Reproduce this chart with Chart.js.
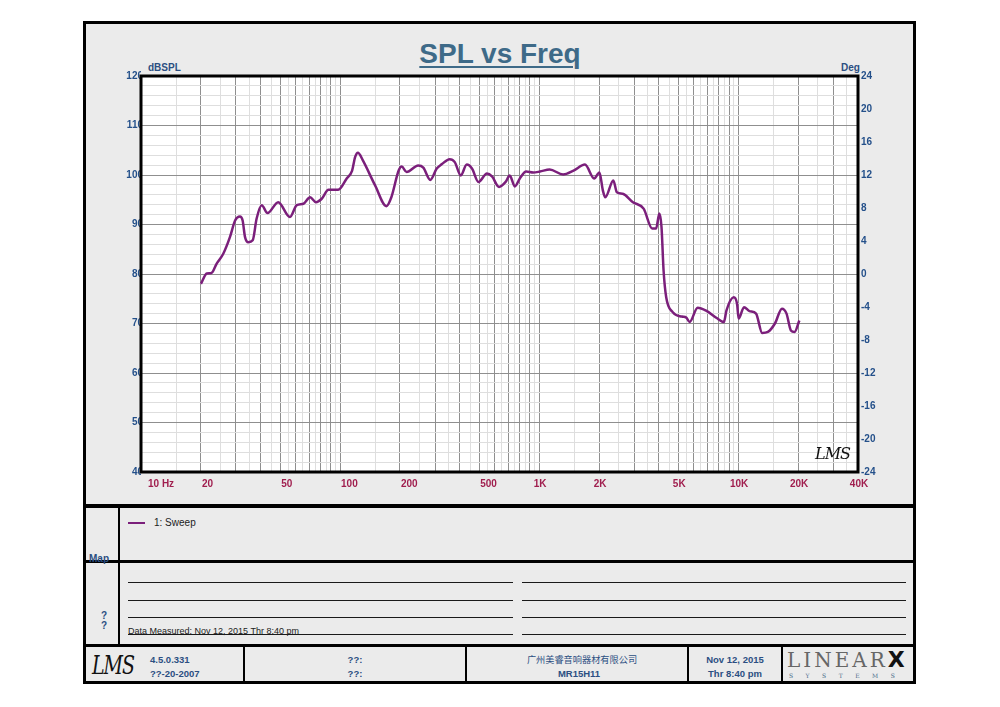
<!DOCTYPE html>
<html><head><meta charset="utf-8">
<script src="https://cdn.jsdelivr.net/npm/chart.js@4.4.0/dist/chart.umd.min.js"></script>
<style>
body{margin:0;background:#fff;width:1000px;height:707px;position:relative;overflow:hidden;font-family:"Liberation Sans",Arial,sans-serif;}
.a{position:absolute;white-space:nowrap;}
.hl{position:absolute;background:#000;}
.nl{position:absolute;background:#1a1a1a;height:1px;}
.blue{color:#2b4f82;font-weight:bold;}
#chart{position:absolute;left:0;top:0;z-index:2;}
</style></head>
<body>
<div class="a" style="left:83px;top:21px;width:833px;height:663px;border:3px solid #000;box-sizing:border-box;background:#ebebeb;"></div>
<div class="hl" style="left:83px;top:504px;width:833px;height:4px"></div>
<div class="hl" style="left:83px;top:560px;width:833px;height:3px"></div>
<div class="hl" style="left:83px;top:644px;width:833px;height:3px"></div>
<div class="hl" style="left:118px;top:504px;width:2px;height:142px"></div>
<div class="hl" style="left:243px;top:646px;width:2px;height:36px"></div>
<div class="hl" style="left:465px;top:646px;width:2px;height:36px"></div>
<div class="hl" style="left:687px;top:646px;width:2px;height:36px"></div>
<div class="hl" style="left:781px;top:646px;width:2px;height:36px"></div>

<div class="nl" style="left:128px;top:582px;width:385px"></div>
<div class="nl" style="left:128px;top:600px;width:385px"></div>
<div class="nl" style="left:128px;top:617px;width:385px"></div>
<div class="nl" style="left:128px;top:634px;width:385px"></div>
<div class="nl" style="left:522px;top:582px;width:384px"></div>
<div class="nl" style="left:522px;top:600px;width:384px"></div>
<div class="nl" style="left:522px;top:617px;width:384px"></div>
<div class="nl" style="left:522px;top:634px;width:384px"></div>

<div class="a" style="left:0;width:1000px;top:40px;text-align:center;font:bold 28px/28px 'Liberation Sans';color:#3e6a88;"><span style="text-decoration:underline;text-decoration-thickness:2px;text-underline-offset:3px;">SPL vs Freq</span></div>
<div class="a blue" style="left:148px;top:63px;font-size:10px;line-height:10px;">dBSPL</div>
<div class="a blue" style="left:841px;top:63px;font-size:10px;line-height:10px;">Deg</div>

<div class="a" style="left:128px;top:522px;width:17px;height:2px;background:#7b1f7b"></div>
<div class="a" style="left:154px;top:518px;font-size:10px;line-height:10px;color:#222">1: Sweep</div>
<div class="a blue" style="left:89px;top:554px;font-size:10px;line-height:10px;">Map</div>
<div class="a blue" style="left:101px;top:611px;font-size:10px;line-height:10px;">?</div>
<div class="a blue" style="left:101px;top:621px;font-size:10px;line-height:10px;">?</div>
<div class="a" style="left:128px;top:626px;font-size:9px;line-height:10px;color:#222">Data Measured: Nov 12, 2015 Thr 8:40 pm</div>

<div class="a" style="left:92px;top:650px;font:italic 19px/22px 'DejaVu Serif';color:#111;letter-spacing:-1px;transform:scale(1,1.35);transform-origin:0 0">LMS</div>
<div class="a blue" style="left:150px;top:655px;font-size:9.5px;line-height:10px;">4.5.0.331</div>
<div class="a blue" style="left:150px;top:669px;font-size:9.5px;line-height:10px;">??-20-2007</div>
<div class="a blue" style="left:245px;width:220px;text-align:center;top:655px;font-size:9.5px;line-height:10px;">??:</div>
<div class="a blue" style="left:245px;width:220px;text-align:center;top:669px;font-size:9.5px;line-height:10px;">??:</div>
<div class="a" style="left:472px;width:220px;text-align:center;top:654px;font:9.2px/11px 'Noto Sans CJK SC';color:#2b4f82;">广州美睿音响器材有限公司</div>
<div class="a blue" style="left:469px;width:220px;text-align:center;top:669px;font-size:9.5px;line-height:10px;">MR15H11</div>
<div class="a blue" style="left:689px;width:92px;text-align:center;top:655px;font-size:9.5px;line-height:10px;">Nov 12, 2015</div>
<div class="a blue" style="left:689px;width:92px;text-align:center;top:669px;font-size:9.5px;line-height:10px;">Thr 8:40 pm</div>
<div class="a" style="left:787px;top:650px;font:20px/20px 'DejaVu Serif';color:#666;letter-spacing:3px">LINEAR<span style="font:bold 22px/20px 'DejaVu Sans';color:#111;letter-spacing:0">X</span></div>
<div class="a" style="left:789px;top:672px;font:6px/7px 'DejaVu Serif';color:#4a6a8a;letter-spacing:12.5px">SYSTEMS</div>

<div class="a" style="left:815px;top:445px;font:italic 16px/18px 'DejaVu Serif';color:#111;z-index:3;letter-spacing:-1px">LMS</div>

<canvas id="chart" width="1000" height="707"></canvas>
<script>
// Frequency (Hz) and SPL (dB)
const freqHz = [20, 21.4, 22.6, 24.0, 25.9, 28.0, 29.7, 31.4, 32.4, 33.3, 34.6, 36.4, 38.1, 40.4, 43.2, 48.9, 56.0, 60.6, 65.5, 70.7, 75.7, 80.9, 87.5, 97.9, 108, 115, 119, 123, 130, 150, 171, 181, 197, 204, 216, 247, 262, 284, 306, 325, 355, 377, 404, 433, 460, 496, 547, 580, 629, 679, 712, 755, 800, 861, 935, 1010, 1130, 1320, 1490, 1700, 1890, 2010, 2090, 2150, 2360, 2460, 2630, 2960, 3350, 3700, 3870, 4020, 4120, 4220, 4350, 4690, 5210, 5490, 5700, 6260, 6900, 7800, 8480, 8730, 9500, 9870, 10060, 10700, 11400, 12300, 13200, 14100, 15300, 16600, 17500, 18400, 19200, 20300];
const splDb = [78.0, 80.1, 80.2, 82.1, 84.1, 87.5, 90.8, 91.6, 90.8, 87.5, 86.4, 86.8, 91.2, 93.9, 92.3, 94.5, 91.5, 93.9, 94.2, 95.5, 94.5, 95.2, 97.0, 97.0, 99.3, 100.9, 103.6, 104.5, 103.0, 97.9, 93.7, 95.5, 100.9, 101.7, 100.6, 101.9, 101.5, 99.0, 101.3, 102.2, 103.2, 102.6, 99.9, 102.1, 101.3, 98.6, 100.3, 99.7, 97.6, 98.6, 99.9, 97.7, 99.3, 100.7, 100.5, 100.7, 101.1, 100.1, 100.9, 102.1, 99.3, 100.5, 96.9, 95.5, 98.9, 96.5, 96.2, 94.5, 93.2, 89.2, 89.2, 92.2, 89.5, 80.7, 75.3, 72.3, 71.4, 71.2, 70.3, 73.2, 72.6, 71.1, 70.3, 72.6, 75.3, 74.0, 71.0, 73.3, 72.5, 72.0, 68.1, 68.3, 70.0, 73.0, 72.0, 68.6, 68.3, 70.6];

const xTickValues = [10, 20, 50, 100, 200, 500, 1000, 2000, 5000, 10000, 20000, 40000];
const xTickLabels = ['10 Hz', '20', '50', '100', '200', '500', '1K', '2K', '5K', '10K', '20K', '40K'];
const yLeftLabels = [40, 50, 60, 70, 80, 90, 100, 110, 120];
const yRightLabels = [-24, -20, -16, -12, -8, -4, 0, 4, 8, 12, 16, 20, 24];

// grid positions: major at each integer multiple, minor at half multiples
const gridFreqs = [];
[10, 100, 1000, 10000].forEach(d => {
  for (let m = 1; m < 10; m += 0.5) { const v = Math.round(d * m); if (v <= 40000) gridFreqs.push(v); }
});
gridFreqs.push(40000);
const isMajorFreq = v => { const d = Math.pow(10, Math.floor(Math.log10(v) + 1e-9)); return Math.abs(v / d - Math.round(v / d)) < 1e-6; };

const FONT = "'Liberation Sans', Arial, sans-serif";
const BLUE = '#24508a';
const MAJ = '#8f8f8f', MIN = '#dedede';

const plotBg = {
  id: 'plotBg',
  beforeDraw(chart) {
    const {ctx, chartArea: a} = chart;
    ctx.save(); ctx.fillStyle = '#fff'; ctx.fillRect(a.left, a.top, a.right - a.left, a.bottom - a.top); ctx.restore();
  },
  afterDraw(chart) {
    const {ctx, chartArea: a} = chart;
    ctx.save();
    ctx.strokeStyle = '#000'; ctx.lineWidth = 3;
    ctx.strokeRect(a.left, a.top, a.right - a.left, a.bottom - a.top);
    const xs = chart.scales.x;
    ctx.font = 'bold 10px ' + FONT; ctx.fillStyle = '#a01e4e'; ctx.textBaseline = 'middle';
    xTickValues.forEach((v, i) => {
      const px = xs.getPixelForValue(v);
      const lab = xTickLabels[i];
      if (i === 0) { ctx.textAlign = 'left'; ctx.fillText(lab, px + 7, a.bottom + 12); }
      else if (lab.indexOf('K') >= 0) { ctx.textAlign = 'center'; ctx.fillText(lab, px + 1, a.bottom + 12); }
      else { ctx.textAlign = 'left'; ctx.fillText(lab, px + 1, a.bottom + 12); }
    });
    ctx.restore();
  }
};

new Chart(document.getElementById('chart'), {
  type: 'line',
  data: {
    datasets: [{
      label: '1: Sweep',
      data: freqHz.map((f, i) => ({x: f, y: splDb[i]})),
      borderColor: '#7b1f7b', borderWidth: 2.5, pointRadius: 0,
      cubicInterpolationMode: 'monotone', fill: false, yAxisID: 'y'
    }]
  },
  options: {
    responsive: false, animation: false, devicePixelRatio: 1,
    layout: {padding: {left: 83, right: 102, top: 76, bottom: 205}},
    plugins: {legend: {display: false}, tooltip: {enabled: false}},
    scales: {
      x: {
        type: 'logarithmic', min: 10, max: 40000,
        afterBuildTicks: s => { s.ticks = gridFreqs.map(v => ({value: v})); },
        afterFit: s => { s.height = 30; },
        ticks: {display: false, autoSkip: false},
        grid: {color: c => (c.tick && isMajorFreq(c.tick.value)) ? MAJ : MIN, lineWidth: 1, drawTicks: false},
        border: {display: false}
      },
      y: {
        position: 'left', min: 40, max: 120,
        ticks: {stepSize: 2, autoSkip: false, padding: -2,
          callback: v => yLeftLabels.includes(v) ? String(v) : '',
          color: BLUE, font: {family: FONT, size: 10, weight: 'bold'}},
        grid: {color: c => (c.tick && c.tick.value % 10 === 0) ? MAJ : MIN, lineWidth: 1, drawTicks: false},
        border: {display: false},
        afterFit: s => { s.width = 58; }
      },
      y2: {
        position: 'right', min: -24, max: 24,
        afterBuildTicks: s => { s.ticks = yRightLabels.map(v => ({value: v})); },
        ticks: {autoSkip: false, padding: 3, color: BLUE, font: {family: FONT, size: 10, weight: 'bold'}},
        grid: {drawOnChartArea: false, drawTicks: false},
        border: {display: false},
        afterFit: s => { s.width = 40; }
      }
    }
  },
  plugins: [plotBg]
});
</script>
</body></html>
